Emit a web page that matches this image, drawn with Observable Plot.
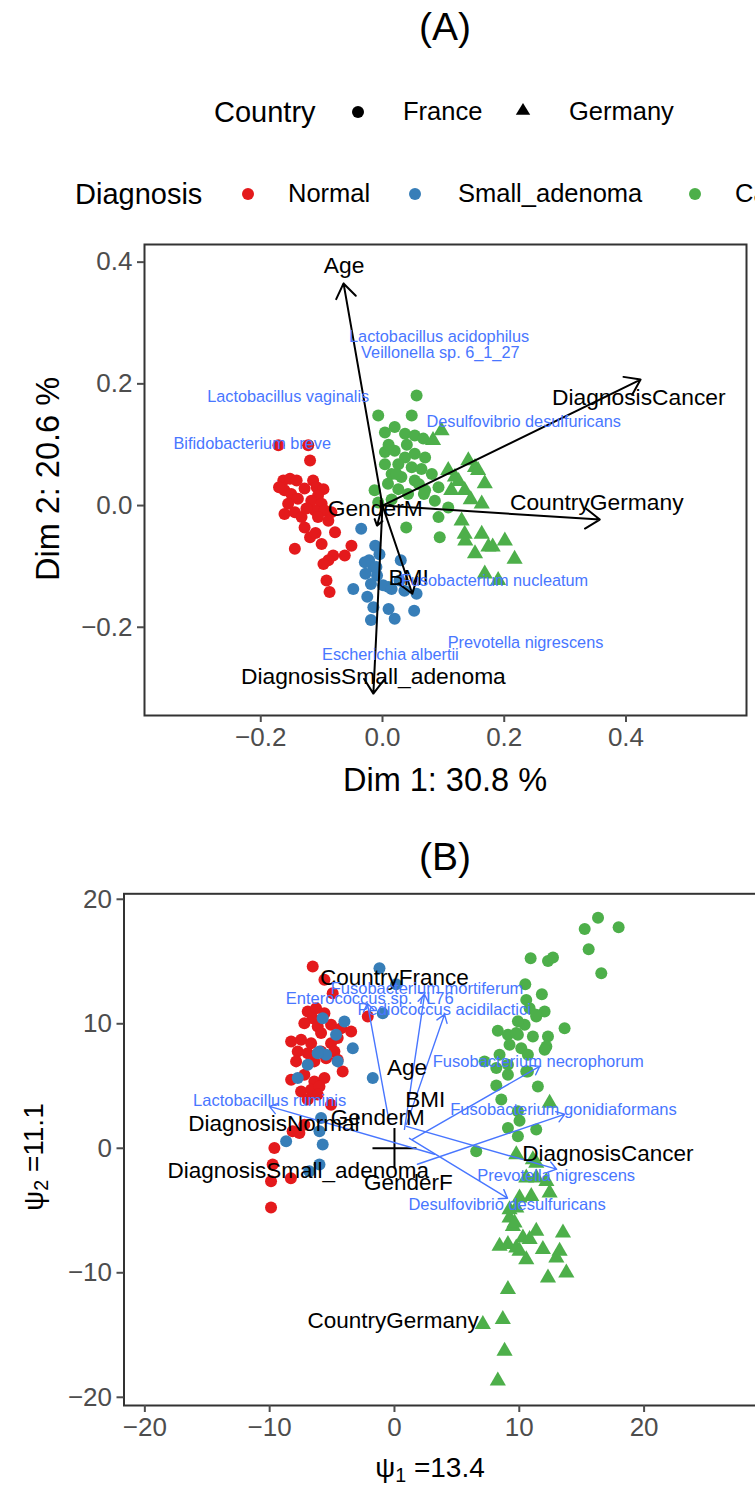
<!DOCTYPE html>
<html><head><meta charset="utf-8">
<script src="https://cdn.jsdelivr.net/npm/d3@7"></script>
<script src="https://cdn.jsdelivr.net/npm/@observablehq/plot@0.6"></script>
<style>
body{margin:0;background:#fff;}
#page{position:relative;width:755px;height:1490px;overflow:hidden;background:#fff;font-family:'Liberation Sans',Arial,Helvetica,sans-serif;color:#000;}
.abs{position:absolute;white-space:nowrap;line-height:1;}
#page svg.plot{position:absolute;left:0;max-width:none !important;}
</style></head><body><div id="page"></div>
<script>
// ---------------- DATA ----------------
const diagnoses = ["Normal", "Small_adenoma", "Cancer"];
const diagColors = ["#E41A1C", "#377EB8", "#4DAF4A"];
const countries = ["France", "Germany"];

// Panel A (Dim 1 / Dim 2)
const ticksA = [-0.2, 0.0, 0.2, 0.4];
const normalA = [[-0.171,0.099],[-0.122,0.099],[-0.119,0.074],[-0.163,0.041],[-0.152,0.044],[-0.141,0.041],[-0.161,0.025],[-0.150,0.019],[-0.139,0.011],[-0.155,0.003],[-0.161,-0.014],[-0.144,-0.011],[-0.133,-0.019],[-0.128,-0.036],[-0.119,-0.052],[-0.114,0.041],[-0.108,0.030],[-0.097,0.027],[-0.106,0.016],[-0.117,0.008],[-0.100,0.003],[-0.111,-0.008],[-0.095,-0.008],[-0.084,-0.011],[-0.106,-0.019],[-0.089,-0.025],[-0.078,-0.044],[-0.100,-0.063],[-0.144,-0.071],[-0.051,-0.066],[-0.062,-0.082],[-0.081,-0.082],[-0.089,-0.090],[-0.097,-0.096],[-0.092,-0.123],[-0.087,-0.142],[-0.170,0.030],[-0.128,0.028],[-0.125,-0.005],[-0.110,-0.045]];
const adenomaA = [[-0.035,-0.038],[-0.012,-0.066],[-0.022,-0.090],[-0.015,-0.101],[-0.028,-0.112],[-0.009,-0.115],[-0.019,-0.129],[-0.048,-0.137],[-0.025,-0.150],[0.010,-0.134],[0.030,-0.090],[0.036,-0.140],[0.056,-0.145],[0.052,-0.173],[0.010,-0.170],[0.020,-0.186],[-0.015,-0.167],[-0.019,-0.188],[0.028,-0.123],[0.001,-0.131],[0.015,-0.137],[-0.029,-0.093],[-0.010,-0.101],[-0.005,-0.080]];
const cancerFranceA = [[0.056,0.181],[-0.007,0.148],[0.048,0.148],[0.004,0.120],[0.020,0.129],[0.037,0.118],[0.053,0.115],[0.067,0.110],[0.004,0.088],[0.020,0.090],[0.037,0.079],[0.053,0.085],[0.070,0.079],[0.004,0.068],[0.026,0.068],[0.048,0.063],[0.064,0.060],[0.015,0.052],[0.031,0.047],[0.053,0.041],[0.081,0.052],[0.009,0.036],[0.026,0.027],[-0.013,0.025],[-0.007,0.005],[0.042,0.019],[0.070,0.025],[0.092,0.030],[0.086,0.008],[0.108,-0.003],[0.092,-0.019],[0.039,-0.036],[0.094,-0.052],[0.068,0.019],[0.023,0.052],[0.010,0.100],[0.040,0.100],[0.060,0.035],[0.015,0.010]];
const cancerGermanyA = [[0.097,0.123],[0.083,0.107],[0.141,0.074],[0.152,0.063],[0.108,0.058],[0.119,0.047],[0.157,0.058],[0.168,0.036],[0.135,0.025],[0.113,0.025],[0.163,0.003],[0.130,-0.025],[0.135,-0.047],[0.136,-0.058],[0.163,-0.047],[0.174,-0.068],[0.201,-0.058],[0.152,-0.079],[0.168,-0.112],[0.190,-0.123],[0.217,-0.088],[0.181,-0.068],[0.125,0.040],[0.145,0.010]];
const originA = [0, 0];
const varNamesA = ["Age", "DiagnosisCancer", "CountryGermany", "GenderM", "BMI", "DiagnosisSmall_adenoma"];
const varTipXA = [-0.064, 0.424, 0.357, -0.009, 0.049, -0.015];
const varTipYA = [0.365, 0.207, -0.023, -0.033, -0.145, -0.309];
const varLabelXA = [-0.063, 0.421, 0.352, -0.012, 0.043, -0.015];
const varLabelYA = [0.394, 0.178, 0.004, -0.005, -0.118, -0.282];
const speciesNamesA = ["Lactobacillus acidophilus", "Veillonella sp. 6_1_27", "Lactobacillus vaginalis", "Bifidobacterium breve", "Desulfovibrio desulfuricans", "Fusobacterium nucleatum", "Prevotella nigrescens", "Escherichia albertii"];
const speciesXA = [0.093, 0.095, -0.155, -0.214, 0.232, 0.184, 0.235, 0.013];
const speciesYA = [0.278, 0.251, 0.178, 0.102, 0.137, -0.124, -0.225, -0.245];

// Panel B (psi1 / psi2)
const ticksBx = [-20, -10, 0, 10, 20];
const ticksBy = [-20, -10, 0, 10, 20];
const normalB = [[-6.55,14.60],[-5.61,13.53],[-4.95,12.45],[-2.14,10.59],[-6.95,10.99],[-6.28,11.25],[-6.55,10.45],[-5.61,10.85],[-7.22,10.05],[-6.15,9.78],[-5.08,9.92],[-5.88,9.25],[-4.27,9.65],[-3.47,9.38],[-8.28,8.58],[-7.48,8.72],[-6.68,8.44],[-5.08,8.44],[-4.55,8.85],[-7.75,7.78],[-6.95,7.64],[-5.88,7.78],[-4.81,7.78],[-7.88,6.98],[-6.42,6.98],[-5.48,7.24],[-4.55,7.11],[-4.15,6.17],[-8.28,5.51],[-7.22,5.91],[-6.42,5.37],[-5.61,5.64],[-7.48,4.57],[-6.68,4.71],[-6.01,4.97],[-6.95,3.91],[-6.15,4.31],[-5.08,3.50],[-8.16,1.36],[-7.62,1.23],[-7.22,1.90],[-9.62,0.02],[-9.76,-1.31],[-8.30,-2.40],[-9.89,-2.65],[-9.89,-4.75]];
const adenomaB = [[-1.20,14.46],[0.13,13.18],[-0.94,10.85],[-4.01,10.18],[-5.75,10.45],[-4.68,9.12],[-3.34,8.04],[-6.01,7.78],[-5.48,7.51],[-4.55,6.98],[-6.95,6.71],[-7.75,5.64],[-1.74,5.64],[-6.15,7.64],[-5.88,2.43],[-6.01,1.36],[-8.68,0.56],[-5.75,0.30],[-6.01,-1.31],[-6.82,-1.84]];
const cancerFranceB = [[16.31,18.52],[15.24,17.62],[17.96,17.75],[15.56,15.98],[16.57,14.06],[10.91,15.26],[12.30,15.05],[12.70,15.32],[10.48,13.18],[11.81,12.37],[10.56,11.92],[10.83,11.25],[12.03,10.99],[11.36,10.59],[10.43,9.92],[13.63,9.65],[8.28,9.44],[9.09,9.12],[9.89,9.12],[11.09,8.98],[12.30,8.98],[9.22,8.32],[10.16,8.04],[12.17,8.18],[8.42,7.51],[7.22,6.98],[8.16,6.44],[9.09,5.91],[10.69,6.17],[11.49,4.97],[8.16,5.05],[8.56,3.91],[9.89,2.97],[10.02,2.22],[9.09,1.63],[11.36,1.50],[9.89,0.96],[6.55,-0.24],[9.76,9.25],[12.03,7.91],[10.69,7.51],[9.09,6.71],[10.56,6.17],[11.36,10.72],[9.89,10.20]];
const cancerGermanyB = [[12.43,3.63],[11.09,-0.91],[9.76,-0.51],[11.36,-1.18],[10.56,-2.38],[11.36,-2.38],[12.17,-2.65],[12.43,-3.58],[10.02,-3.98],[10.96,-3.85],[9.22,-5.59],[9.76,-4.79],[9.22,-4.92],[9.49,-6.26],[9.62,-5.99],[13.50,-6.79],[11.36,-6.66],[10.29,-7.19],[10.83,-7.32],[8.42,-7.86],[9.09,-7.72],[9.76,-8.00],[10.02,-8.26],[11.89,-8.12],[13.23,-8.26],[12.97,-8.80],[10.56,-8.93],[12.30,-10.40],[13.77,-10.00],[9.09,-11.33],[8.68,-13.74],[7.08,-14.14],[8.82,-16.28],[8.28,-18.68]];
const originB = [0, 0];
const varNamesB = ["CountryFrance", "Age", "BMI", "GenderM", "DiagnosisNormal", "DiagnosisSmall_adenoma", "GenderF", "DiagnosisCancer", "CountryGermany"];
const varXB = [0.00, 1.00, 2.47, -1.34, -9.66, -7.71, 1.12, 17.10, -0.10];
const varYB = [13.66, 6.44, 3.91, 2.43, 1.95, -1.79, -2.78, -0.43, -13.82];
const speciesNamesB = ["Fusobacterium mortiferum", "Enterococcus sp. 7L76", "Pediococcus acidilactici", "Fusobacterium necrophorum", "Fusobacterium gonidiaformans", "Lactobacillus ruminis", "Prevotella nigrescens", "Desulfovibrio desulfuricans"];
const speciesLabelXB = [2.61, -1.98, 3.98, 11.52, 13.54, -10.00, 12.96, 9.02];
const speciesLabelYB = [12.80, 12.05, 11.12, 6.98, 3.10, 3.85, -2.17, -4.52];
const speciesStartXB = [0.80, -0.40, 0.96, 1.44, 1.84, 3.21, 0.96, 1.20];
const speciesStartYB = [1.52, 2.00, 1.92, 0.72, -1.28, -0.48, 1.76, 0.80];
const speciesTipXB = [2.41, -2.17, 4.01, 11.63, 13.63, -10.02, 12.99, 9.06];
const speciesTipYB = [12.35, 11.63, 10.75, 6.58, 2.73, 3.37, -1.68, -4.01];

// ---------------- BUILD ----------------
const FONT = "'Liberation Sans', Arial, Helvetica, sans-serif";
const BLUE_TXT = "#4876FF";
const page = document.getElementById("page");

function addText(html, x, y, size, opts = {}) {
  const d = document.createElement("div");
  d.className = "abs";
  d.innerHTML = html;
  d.style.left = x + "px";
  d.style.top = y + "px";
  d.style.fontSize = size + "px";
  if (opts.color) d.style.color = opts.color;
  const tx = opts.anchor === "start" ? "0" : "-50%";
  d.style.transform = `translate(${tx},-50%)` + (opts.rotate ? ` rotate(${opts.rotate}deg)` : "");
  page.appendChild(d);
  return d;
}
function addKey(shape, color, cx, cy) {
  const s = document.createElementNS("http://www.w3.org/2000/svg", "svg");
  s.setAttribute("width", 20); s.setAttribute("height", 20);
  s.style.position = "absolute"; s.style.left = (cx - 10) + "px"; s.style.top = (cy - 10) + "px";
  if (shape === "circle") {
    s.innerHTML = `<circle cx="10" cy="10" r="6" fill="${color}"/>`;
  } else {
    s.innerHTML = `<path d="M10,3 L17.2,14.8 L2.8,14.8 Z" fill="${color}"/>`;
  }
  page.appendChild(s);
}
function place(svg, top, w, h) {
  svg.classList.add("plot");
  svg.style.top = top + "px";
  svg.style.maxWidth = "none";
  svg.style.width = w + "px";
  svg.style.height = h + "px";
  page.appendChild(svg);
}

const toPts = (arr, g) => arr.map(([x, y]) => ({x, y, g}));
const colorScale = {domain: diagnoses, range: diagColors};
const crossSymbol = {draw(ctx, size) { const r = Math.sqrt(size / Math.PI); ctx.moveTo(-r, 0); ctx.lineTo(r, 0); ctx.moveTo(0, -r * 0.92); ctx.lineTo(0, r * 0.92); }};
const axisStyle = {label: null, tickSize: 7, tickPadding: 5, fontSize: 26, color: "#4d4d4d", strokeWidth: 2};

// Titles and legend
addText("(A)", 445, 26, 39);
addText("Country", 214, 112, 29, {anchor: "start"});
addKey("circle", "#000", 358, 112);
addText(countries[0], 403, 112, 25.5, {anchor: "start"});
addKey("triangle", "#000", 523, 110);
addText(countries[1], 569, 112, 25.5, {anchor: "start"});
addText("Diagnosis", 75, 194, 29, {anchor: "start"});
const keyX = [248, 415, 695], labX = [288, 458, 735];
diagnoses.forEach((d, i) => { addKey("circle", diagColors[i], keyX[i], 194); addText(d, labX[i], 194, 25.5, {anchor: "start"}); });

// Panel A
const circA = [...toPts(normalA, "Normal"), ...toPts(adenomaA, "Small_adenoma"), ...toPts(cancerFranceA, "Cancer")];
const triA = toPts(cancerGermanyA, "Cancer");
const varsA = varNamesA.map((name, i) => ({name, x1: originA[0], y1: originA[1], x2: varTipXA[i], y2: varTipYA[i], lx: varLabelXA[i], ly: varLabelYA[i]}));
const specA = speciesNamesA.map((name, i) => ({name, x: speciesXA[i], y: speciesYA[i]}));

const plotA = Plot.plot({
  width: 755, height: 570,
  marginLeft: 144, marginRight: 9, marginTop: 14, marginBottom: 85,
  x: {domain: [-0.391, 0.598]},
  y: {domain: [-0.345, 0.429]},
  color: colorScale,
  style: {fontFamily: FONT, background: "transparent", overflow: "visible"},
  marks: [
    Plot.dot(circA, {x: "x", y: "y", fill: "g", r: 6}),
    Plot.dot(triA, {x: "x", y: "y", fill: "g", r: 6, symbol: "triangle"}),
    Plot.arrow(varsA, {x1: "x1", y1: "y1", x2: "x2", y2: "y2", stroke: "black", strokeWidth: 2, headLength: 13, headAngle: 70}),
    Plot.text(varsA, {x: "lx", y: "ly", text: "name", fontSize: 22.8, fill: "black"}),
    Plot.text(specA, {x: "x", y: "y", text: "name", fontSize: 16.3, fill: BLUE_TXT}),
    Plot.frame({stroke: "#333", strokeWidth: 2}),
    Plot.axisX({ticks: ticksA, tickFormat: d3.format(".1f"), ...axisStyle}),
    Plot.axisY({ticks: ticksA, tickFormat: d3.format(".1f"), ...axisStyle})
  ]
});
place(plotA, 230, 755, 570);
addText("Dim 1: 30.8 %", 445, 780, 32.5);
addText("Dim 2: 20.6 %", 48, 479, 32.5, {rotate: -90});

// Panel B
addText("(B)", 445, 856, 39);
const circB = [...toPts(normalB, "Normal"), ...toPts(adenomaB, "Small_adenoma"), ...toPts(cancerFranceB, "Cancer")];
const triB = toPts(cancerGermanyB, "Cancer");
const varsB = varNamesB.map((name, i) => ({name, x: varXB[i], y: varYB[i]}));
const specB = speciesNamesB.map((name, i) => ({name, x1: speciesStartXB[i], y1: speciesStartYB[i], x2: speciesTipXB[i], y2: speciesTipYB[i], lx: speciesLabelXB[i], ly: speciesLabelYB[i]}));

const plotB = Plot.plot({
  width: 790, height: 580,
  marginLeft: 123.5, marginRight: 0, marginTop: 13.3, marginBottom: 55,
  x: {domain: [-21.67, 31.73]},
  y: {domain: [-20.66, 20.44]},
  color: colorScale,
  style: {fontFamily: FONT, background: "transparent", overflow: "visible"},
  marks: [
    Plot.dot(circB, {x: "x", y: "y", fill: "g", r: 6}),
    Plot.dot(triB, {x: "x", y: "y", fill: "g", r: 6, symbol: "triangle"}),
    Plot.dot([{x: originB[0], y: originB[1]}], {x: "x", y: "y", symbol: crossSymbol, r: 22, stroke: "black", strokeWidth: 2, fill: "none"}),
    Plot.arrow(specB, {x1: "x1", y1: "y1", x2: "x2", y2: "y2", stroke: BLUE_TXT, strokeWidth: 1.4, headLength: 10, headAngle: 70}),
    Plot.text(varsB, {x: "x", y: "y", text: "name", fontSize: 22.5, fill: "black"}),
    Plot.text(specB, {x: "lx", y: "ly", text: "name", fontSize: 16.5, fill: BLUE_TXT}),
    Plot.frame({stroke: "#333", strokeWidth: 2}),
    Plot.axisX({ticks: ticksBx, tickFormat: d3.format("d"), ...axisStyle}),
    Plot.axisY({ticks: ticksBy, tickFormat: d3.format("d"), ...axisStyle})
  ]
});
place(plotB, 880, 790, 580);
addText("ψ<sub style='font-size:0.7em;vertical-align:-0.25em'>1</sub> =13.4", 430, 1470, 28);
addText("ψ<sub style='font-size:0.7em;vertical-align:-0.25em'>2</sub> =11.1", 36, 1157, 28, {rotate: -90});
</script></body></html>
